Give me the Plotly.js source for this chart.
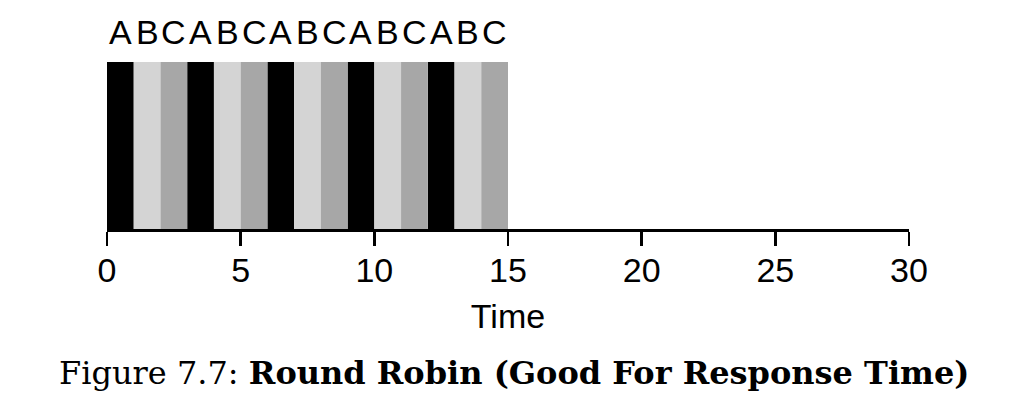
<!DOCTYPE html>
<html>
<head>
<meta charset="utf-8">
<script src="https://cdn.plot.ly/plotly-3.0.1.min.js"></script>
<style>
  html, body { margin: 0; padding: 0; background: #fff; }
  #chart { width: 1010px; height: 416px; }
</style>
</head>
<body>
<div id="chart"></div>
<script>
// round robin schedule: one time slice per entry
const sliceJob = ["A", "B", "C", "A", "B", "C", "A", "B", "C", "A", "B", "C", "A", "B", "C"];
const sliceStart = [0, 1, 2, 3, 4, 5, 6, 7, 8, 9, 10, 11, 12, 13, 14];
const sliceLength = [1, 1, 1, 1, 1, 1, 1, 1, 1, 1, 1, 1, 1, 1, 1];

const jobNames = ["A", "B", "C"];
const jobColors = { A: "#000000", B: "#d4d4d4", C: "#a7a7a7" };

const timeTicks = [0, 5, 10, 15, 20, 25, 30];
const axisLabel = "Time";
const caption = "Figure 7.7: <b>Round Robin (Good For Response Time)</b>";

const sansFont = "'Liberation Sans', Arial, sans-serif";
const serifFont = "'DejaVu Serif', serif";

const traces = jobNames.map(job => {
  const idx = sliceJob.map((j, i) => (j === job ? i : -1)).filter(i => i >= 0);
  return {
    type: "bar",
    name: job,
    x: idx.map(i => sliceStart[i] + sliceLength[i] / 2),
    y: idx.map(() => 1),
    width: idx.map(i => sliceLength[i]),
    marker: { color: jobColors[job], line: { width: 0 } },
    hoverinfo: "skip",
  };
});

const letterNotes = sliceJob.map((job, i) => ({
  xref: "x",
  yref: "y",
  x: sliceStart[i] + sliceLength[i] / 2,
  y: 1,
  yanchor: "bottom",
  yshift: 9,
  text: job,
  showarrow: false,
  font: { family: sansFont, size: 34, color: "#000" },
}));

const layout = {
  width: 1010,
  height: 416,
  margin: { l: 107, r: 101, t: 62, b: 187 },
  paper_bgcolor: "#fff",
  plot_bgcolor: "#fff",
  showlegend: false,
  barmode: "overlay",
  xaxis: {
    range: [0, 30],
    tickvals: timeTicks,
    ticktext: timeTicks.map(String),
    ticks: "outside",
    ticklen: 14,
    tickwidth: 2.5,
    tickcolor: "#000",
    ticklabelstandoff: -4,
    showline: true,
    linewidth: 2.5,
    linecolor: "#000",
    showgrid: false,
    zeroline: false,
    fixedrange: true,
    tickfont: { family: sansFont, size: 34, color: "#000" },
    title: { text: axisLabel, font: { family: sansFont, size: 34, color: "#000" }, standoff: 16 },
  },
  yaxis: {
    range: [0, 1],
    visible: false,
    fixedrange: true,
  },
  annotations: [
    ...letterNotes,
    {
      xref: "paper",
      yref: "paper",
      x: 0.5075,
      y: -0.86,
      xanchor: "center",
      yanchor: "middle",
      text: caption,
      showarrow: false,
      font: { family: serifFont, size: 32, color: "#000" },
    },
  ],
};

Plotly.newPlot("chart", traces, layout, { displayModeBar: false, staticPlot: true });
</script>
</body>
</html>
